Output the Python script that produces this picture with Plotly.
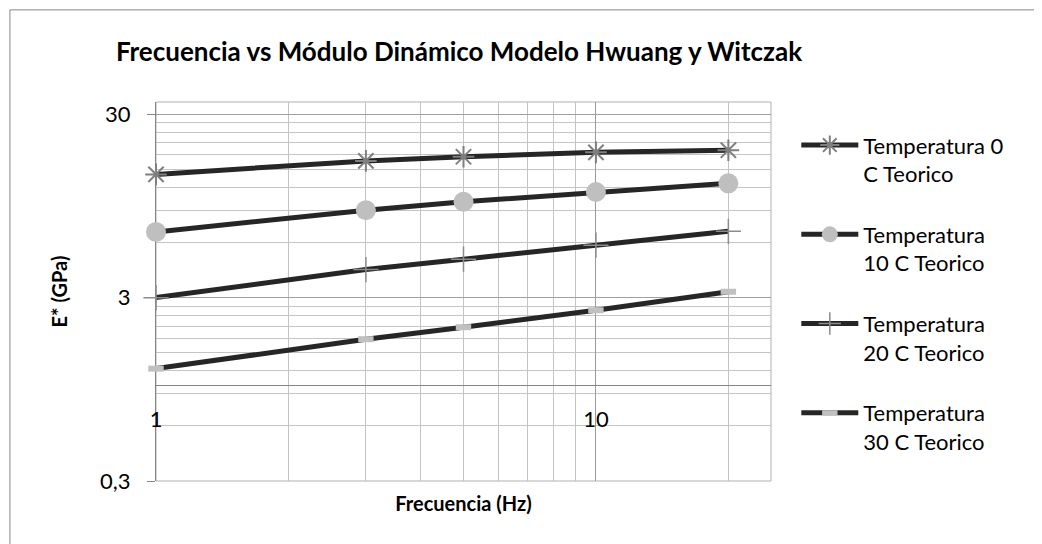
import math
import plotly.graph_objects as go

# frequency (Hz) and dynamic modulus E* (GPa)
freq = [1, 3, 5, 10, 20]
e_0c = [14.1, 16.7, 17.6, 18.6, 19.1]
e_10c = [6.85, 9.0, 10.0, 11.3, 12.6]
e_20c = [3.0, 4.27, 4.86, 5.8, 6.9]
e_30c = [1.23, 1.78, 2.07, 2.56, 3.23]

names = ['Temperatura 0<br>C Teorico', 'Temperatura<br>10 C Teorico',
         'Temperatura<br>20 C Teorico', 'Temperatura<br>30 C Teorico']

y_ticks = [0.3, 3, 30]
y_ticktext = ['0,3', '3', '30']
y_minor = [0.6, 0.9, 1.2, 1.5, 1.8, 2.1, 2.4, 2.7, 6, 9, 12, 15, 18, 21, 24, 27]
x_ticks = [1, 10]
x_minor = [2, 3, 4, 5, 6, 7, 8, 9, 20]

FONT = 'Lato'
LINE = '#262626'

fig = go.Figure()

markers = [
    dict(symbol='asterisk-open', size=18, color='#7f7f7f', line=dict(width=2)),
    dict(symbol='circle', size=20, color='#bfbfbf', line=dict(width=0)),
    dict(symbol='cross-thin-open', size=18, color='#8c8c8c', line=dict(width=1.5)),
    dict(symbol='line-ew-open', size=11, color='#c0c0c0', line=dict(width=6)),
]

for i, (vals, name) in enumerate(zip([e_0c, e_10c, e_20c, e_30c], names)):
    fig.add_trace(go.Scatter(
        x=freq, y=vals, name=name, mode='lines+markers',
        line=dict(color=LINE, width=5),
        marker=markers[i],
        legendgroup=str(i),
        cliponaxis=False,
    ))

# the page puts the figure 8px in from the corner, so sizes are 8px smaller
FW, FH = 1034, 536
L, R, T, B = 148, 762.7, 93.7, 473
W, H = R - L, B - T
y_lo, y_hi = math.log10(0.3), math.log10(35)
x_pos = (0 - y_lo) / (y_hi - y_lo)

fig.update_layout(
    width=FW, height=FH,
    margin=dict(l=L, r=FW - R, t=T, b=FH - B, autoexpand=False),
    paper_bgcolor='white', plot_bgcolor='white',
    font=dict(family=FONT, size=22, color='black'),
    title=dict(text='<b>Frecuencia vs Módulo Dinámico Modelo Hwuang y Witczak</b>',
               x=451 / FW, xref='container', xanchor='center',
               y=1 - 44 / FH, yref='container', yanchor='middle',
               font=dict(family=FONT, size=26, color='black')),
    showlegend=True,
    legend=dict(x=(788 - L) / W, xanchor='left', y=(B - 116) / H, yanchor='top',
                font=dict(family=FONT, size=22, color='black'),
                itemwidth=57, valign='top', traceorder='grouped',
                tracegroupgap=29, bgcolor='rgba(0,0,0,0)'),
    xaxis=dict(type='log', range=[0, math.log10(25)],
               tickvals=x_ticks, ticktext=['1', '10'], ticks='',
               anchor='free', position=x_pos,
               showline=True, linecolor='#868686', linewidth=1,
               showgrid=True, gridcolor='#9a9a9a', gridwidth=1,
               minor=dict(tickvals=x_minor, showgrid=True, gridcolor='#c4c4c4', gridwidth=1, ticks=''),
               ticklabelstandoff=14,
               tickfont=dict(family=FONT, size=22, color='black'),
               title=dict(text='<b>Frecuencia (Hz)</b>', standoff=66,
                          font=dict(family=FONT, size=20, color='black')),
               zeroline=False, layer='below traces', automargin=False),
    yaxis=dict(type='log', range=[y_lo, y_hi],
               tickvals=y_ticks, ticktext=y_ticktext,
               ticks='outside', ticklen=8, tickcolor='#868686',
               ticklabelstandoff=12,
               showline=True, linecolor='#868686', linewidth=1,
               showgrid=True, gridcolor='#a0a0a0', gridwidth=1,
               minor=dict(tickvals=y_minor, showgrid=True, gridcolor='#c4c4c4', gridwidth=1, ticks=''),
               tickfont=dict(family=FONT, size=22, color='black'),
               title=dict(text='<b>E* (GPa)</b>', standoff=27,
                          font=dict(family=FONT, size=20, color='black')),
               zeroline=False, layer='below traces', automargin=False),
    shapes=[
        dict(type='rect', xref='paper', yref='paper', x0=0, x1=1, y0=0, y1=1,
             line=dict(color='#b0b0b0', width=1), layer='below'),
        dict(type='rect', xref='paper', yref='paper',
             x0=(2 - L) / W, x1=(1028 - L) / W, y0=(B - 540) / H, y1=(B - 1.5) / H,
             line=dict(color='#868686', width=1), layer='below'),
    ],
)

fig.write_html('out.html')
